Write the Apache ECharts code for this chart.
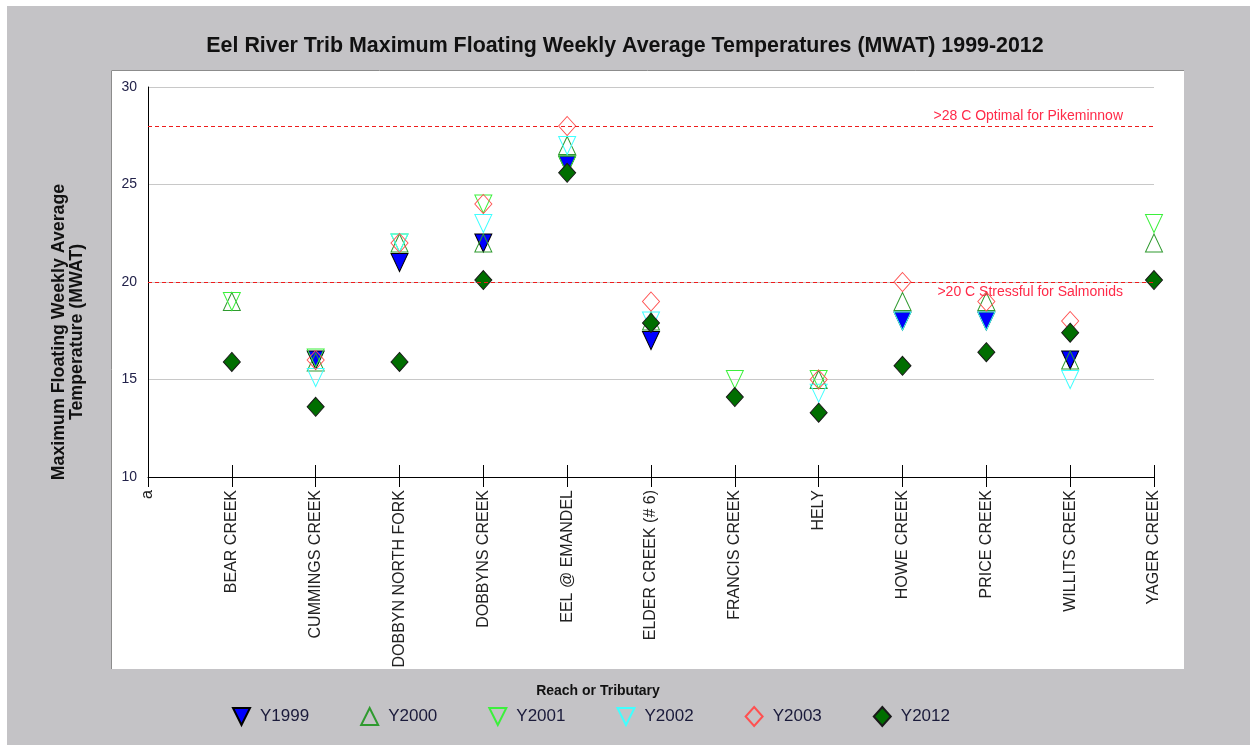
<!DOCTYPE html>
<html><head><meta charset="utf-8">
<script src="https://cdn.jsdelivr.net/npm/echarts@6/dist/echarts.min.js"></script>
<style>html,body{margin:0;padding:0;background:#fff}#c{width:1250px;height:745px}</style>
</head><body><div id="c"></div>
<script>
// ---- data ----
const categories = ['a', 'BEAR CREEK', 'CUMMINGS CREEK', 'DOBBYN NORTH FORK', 'DOBBYNS CREEK', 'EEL @ EMANDEL',
  'ELDER CREEK (# 6)', 'FRANCIS CREEK', 'HELY', 'HOWE CREEK', 'PRICE CREEK', 'WILLITS CREEK', 'YAGER CREEK'];
const y1999 = [null, null, 16.0, 21.0, 22.0, 26.0, 17.0, null, null, 18.0, 18.0, 16.0, null];
const y2000 = [null, 19.0, 15.9, 22.0, 22.0, 27.0, 18.0, null, 15.0, 19.0, 19.0, 16.0, 22.0];
const y2001 = [null, 19.0, 16.1, 22.0, 24.0, 26.0, null, 15.0, 15.0, null, null, null, 23.0];
const y2002 = [null, null, 15.1, 22.0, 23.0, 27.0, 18.0, null, 14.3, 18.0, 18.0, 15.0, null];
const y2003 = [null, null, 16.0, 22.0, 24.0, 28.0, 19.0, null, 15.0, 20.0, 19.0, 18.0, null];
const y2012 = [null, 15.9, 13.6, 15.9, 20.1, 25.6, 17.9, 14.1, 13.3, 15.7, 16.4, 17.4, 20.1];
const seriesNames = ['Y1999', 'Y2000', 'Y2001', 'Y2002', 'Y2003', 'Y2012'];
const thresholdValues = [28, 20];
const thresholdLabels = ['>28 C Optimal for Pikeminnow', '>20 C Stressful for Salmonids'];
const yMin = 10, yMax = 30, yInterval = 5;

// ---- styles ----
const DOWN = 'path://M0,0L10,0L5,10Z';
const UP = 'path://M5,0L10,10L0,10Z';
const seriesData = [y1999, y2000, y2001, y2002, y2003, y2012];
const styles = [
  {symbol: DOWN, size: [17, 18], fill: '#0000ff', stroke: '#000000'},
  {symbol: UP, size: [17, 18], fill: 'rgba(0,0,0,0)', stroke: '#2f9a2f'},
  {symbol: DOWN, size: [17, 18], fill: 'rgba(0,0,0,0)', stroke: '#3cf03c'},
  {symbol: DOWN, size: [17, 18], fill: 'rgba(0,0,0,0)', stroke: '#40ffff'},
  {symbol: 'diamond', size: [17, 19], fill: 'rgba(0,0,0,0)', stroke: '#ff5050'},
  {symbol: 'diamond', size: [17, 19], fill: '#006e00', stroke: '#1a1a1a'}
];

const series = seriesNames.map((n, i) => ({
  name: n, type: 'scatter', data: seriesData[i],
  symbol: styles[i].symbol, symbolSize: styles[i].size, symbolKeepAspect: false,
  itemStyle: {color: styles[i].fill, borderColor: styles[i].stroke, borderWidth: 1, opacity: 1},
  emphasis: {disabled: true}, z: 3
}));

series.push({
  name: 'thresholds', type: 'line', data: [], silent: true,
  markLine: {
    silent: true, symbol: ['none', 'none'],
    lineStyle: {color: '#ee1c1c', type: [4, 3], width: 1.2},
    data: thresholdValues.map((v, i) => ({
      yAxis: v,
      label: {
        show: true, formatter: thresholdLabels[i],
        position: i === 0 ? 'insideEndTop' : 'insideEndBottom',
        distance: [31, 3],
        color: '#ff2a48', fontSize: 14, fontFamily: 'Liberation Sans, Arial, sans-serif'
      }
    }))
  }
});

const chart = echarts.init(document.getElementById('c'), null, {renderer: 'canvas'});
chart.setOption({
  backgroundColor: '#ffffff',
  animation: false,
  title: {
    text: 'Eel River Trib Maximum Floating Weekly Average Temperatures (MWAT) 1999-2012',
    left: 'center', top: 31,
    textStyle: {fontSize: 21.4, fontWeight: 'bold', color: '#111', fontFamily: 'Liberation Sans, Arial, sans-serif'}
  },
  graphic: {elements: [
    {type: 'rect', z: -100, silent: true, shape: {x: 7, y: 6, width: 1243, height: 739}, style: {fill: '#c4c3c6'}},
    {type: 'rect', z: -99, silent: true, shape: {x: 111, y: 70, width: 1073, height: 599}, style: {fill: '#ffffff'}},
    {type: 'polyline', z: -98, silent: true, shape: {points: [[111.5, 669], [111.5, 70.5], [1184, 70.5]]}, style: {stroke: '#8c8c8c', lineWidth: 1, fill: null}},
    {type: 'text', silent: true, x: 68, y: 332, rotation: Math.PI / 2,
      style: {text: 'Maximum Floating Weekly Average\nTemperature (MWAT)', align: 'center', verticalAlign: 'middle',
        font: 'bold 17.8px "Liberation Sans", Arial, sans-serif', fill: '#111', lineHeight: 18}},
    {type: 'text', silent: true, x: 598, y: 691,
      style: {text: 'Reach or Tributary', align: 'center', verticalAlign: 'middle',
        font: 'bold 14px "Liberation Sans", Arial, sans-serif', fill: '#111'}}
  ]},
  legend: {
    data: seriesNames.map((n, i) => ({name: n, icon: styles[i].symbol})),
    left: 232, top: 706, padding: 0, itemWidth: 17, itemHeight: 19, itemGap: 51,
    textStyle: {fontSize: 17, color: '#1a1a3a', fontFamily: 'Liberation Sans, Arial, sans-serif', padding: [0, 0, 0, 5]},
    selectedMode: false
  },
  grid: {left: 148, right: 96, top: 87, bottom: 268, containLabel: false},
  xAxis: [{
    type: 'category', data: categories, boundaryGap: false, position: 'bottom',
    axisLine: {lineStyle: {color: '#000', width: 1}},
    axisTick: {show: true, inside: false, length: 10, interval: 0, lineStyle: {color: '#000'}},
    axisLabel: {rotate: 90, interval: 0, margin: 13, fontSize: 16, color: '#222',
      fontFamily: 'Liberation Sans, Arial, sans-serif'},
    splitLine: {show: false}
  }, {
    type: 'category', data: categories, boundaryGap: false, position: 'bottom',
    axisLine: {show: false},
    axisTick: {show: true, inside: true, length: 12, interval: 0, lineStyle: {color: '#000'}},
    axisLabel: {show: false, interval: 0}, splitLine: {show: false}
  }],
  yAxis: {
    type: 'value', min: yMin, max: yMax, interval: yInterval,
    axisLine: {show: true, lineStyle: {color: '#000', width: 1}},
    axisTick: {show: false},
    axisLabel: {fontSize: 14, color: '#22224a', margin: 11, fontFamily: 'Liberation Sans, Arial, sans-serif'},
    splitLine: {show: true, lineStyle: {color: '#c8c8c8', width: 1}}
  },
  series: series
});
</script></body></html>
